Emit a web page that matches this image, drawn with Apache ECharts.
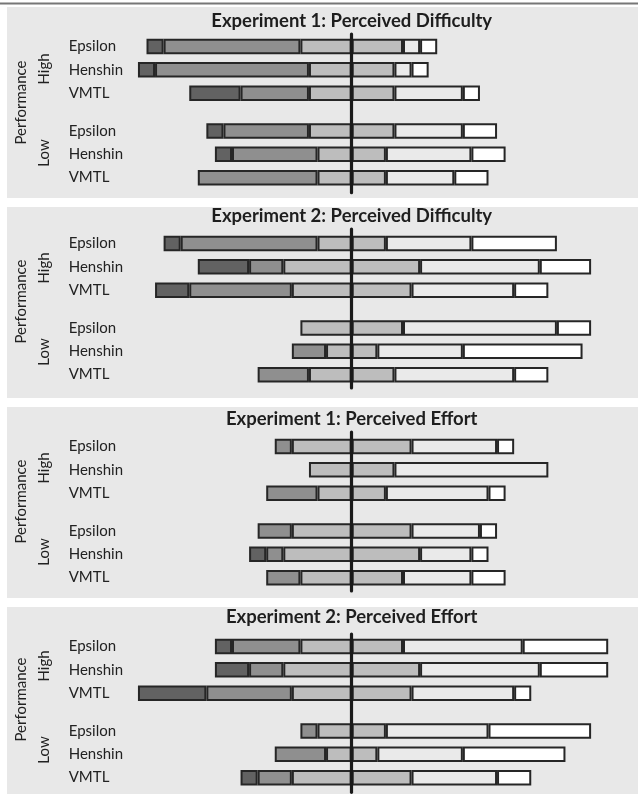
<!DOCTYPE html>
<html>
<head>
<meta charset="utf-8">
<script src="https://cdn.jsdelivr.net/npm/echarts@6/dist/echarts.min.js"></script>
<style>html,body{margin:0;padding:0;background:#fff}#c{width:638px;height:794px}</style>
</head>
<body>
<div id="c"></div>
<script>
// Row labels and panel titles
const rowNames = ['Epsilon', 'Henshin', 'VMTL'];
const panelTitles = [
  'Experiment 1: Perceived Difficulty',
  'Experiment 2: Perceived Difficulty',
  'Experiment 1: Perceived Effort',
  'Experiment 2: Perceived Effort'
];
// Counts per row: [very low, low, neutral, high, very high]
const exp1DiffHigh = [[1, 8, 6, 1, 1], [1, 9, 5, 1, 1], [3, 4, 5, 4, 1]];
const exp1DiffLow  = [[1, 5, 5, 4, 2], [1, 5, 4, 5, 2], [0, 7, 4, 4, 2]];
const exp2DiffHigh = [[1, 8, 4, 5, 5], [3, 2, 8, 7, 3], [2, 6, 7, 6, 2]];
const exp2DiffLow  = [[0, 0, 6, 9, 2], [0, 2, 3, 5, 7], [0, 3, 5, 7, 2]];
const exp1EffHigh  = [[0, 1, 7, 5, 1], [0, 0, 5, 9, 0], [0, 3, 4, 6, 1]];
const exp1EffLow   = [[0, 2, 7, 4, 1], [1, 1, 8, 3, 1], [0, 2, 6, 4, 2]];
const exp2EffHigh  = [[1, 4, 6, 7, 5], [2, 2, 8, 7, 4], [4, 5, 7, 6, 1]];
const exp2EffLow   = [[0, 1, 4, 6, 6], [0, 3, 3, 5, 6], [1, 2, 7, 5, 2]];

const panels = [
  [exp1DiffHigh, exp1DiffLow],
  [exp2DiffHigh, exp2DiffLow],
  [exp1EffHigh, exp1EffLow],
  [exp2EffHigh, exp2EffLow]
];

// layout
const panelTop = [7, 207, 407, 607];
const barOffset = [0, 197, 400, 600];
const labelOffset = [0, 199, 399, 597];
const titleTop = [11.5, 207, 409.5, 608];
const lineSpan = [[34, 192.7], [229, 388], [432, 591], [634, 792.3]];
const gridLeft = 9.7, gridWidth = 615.6, xMin = -20, xMax = 16;
const colors = { dark: '#626262', med: '#8f8f8f', neu: '#bdbdbd', light: '#eaeaea', white: '#ffffff' };
const FONT = 'Lato';

const nz = v => (v === 0 ? null : v);

const grids = [], xAxes = [], yAxes = [], series = [], titles = [], graphics = [];

graphics.push({ type: 'rect', shape: { x: 0, y: 2.5, width: 638, height: 2 }, style: { fill: '#777' }, z: -10 });

panels.forEach((groups, p) => {
  graphics.push({ type: 'rect', shape: { x: 7, y: panelTop[p], width: 631, height: 191 }, style: { fill: '#e8e8e8' }, z: -10 });
  titles.push({
    text: panelTitles[p], left: 351.7, top: titleTop[p], textAlign: 'center', padding: 0,
    textStyle: { fontFamily: FONT, fontWeight: 'bold', fontSize: 18.5, color: '#1e1e1e' }
  });
  const lo = labelOffset[p];
  graphics.push({ type: 'text', x: 21, y: 102.5 + lo, rotation: Math.PI / 2,
    style: { text: 'Performance', font: '15px ' + FONT, fill: '#222', align: 'center', verticalAlign: 'middle' }, z: 10 });
  graphics.push({ type: 'text', x: 44, y: 69 + lo, rotation: Math.PI / 2,
    style: { text: 'High', font: '15px ' + FONT, fill: '#222', align: 'center', verticalAlign: 'middle' }, z: 10 });
  graphics.push({ type: 'text', x: 44, y: 153 + lo, rotation: Math.PI / 2,
    style: { text: 'Low', font: '15px ' + FONT, fill: '#222', align: 'center', verticalAlign: 'middle' }, z: 10 });

  groups.forEach((rows, g) => {
    const gi = p * 2 + g;
    const top = (g === 0 ? 34.8 : 119.3) + barOffset[p];
    grids.push({ left: gridLeft, width: gridWidth, top: top, height: 70 });
    xAxes.push({ type: 'value', gridIndex: gi, min: xMin, max: xMax, show: false });
    yAxes.push({
      type: 'category', gridIndex: gi, data: rowNames, inverse: true,
      axisLine: { show: false }, axisTick: { show: false }, splitLine: { show: false },
      axisLabel: { inside: true, margin: 59, fontFamily: FONT, fontSize: 15, color: '#222' }
    });
    const parts = [
      ['neu', rows.map(r => nz(-r[2] / 2))],
      ['med', rows.map(r => nz(-r[1]))],
      ['dark', rows.map(r => nz(-r[0]))],
      ['neu', rows.map(r => nz(r[2] / 2))],
      ['light', rows.map(r => nz(r[3]))],
      ['white', rows.map(r => nz(r[4]))]
    ];
    parts.forEach(([k, data]) => {
      series.push({
        type: 'bar', xAxisIndex: gi, yAxisIndex: gi, stack: 's' + gi, data: data,
        barWidth: 15.5,
        itemStyle: { color: colors[k], borderColor: '#262626', borderWidth: 2 },
        silent: true
      });
    });
  });
});

// centre lines
lineSpan.forEach((s, p) => {
  const gi = 8 + p;
  grids.push({ left: gridLeft, width: gridWidth, top: s[0], height: s[1] - s[0] });
  xAxes.push({ type: 'value', gridIndex: gi, min: xMin, max: xMax, show: false });
  yAxes.push({ type: 'value', gridIndex: gi, min: 0, max: 1, show: false });
  series.push({
    type: 'line', xAxisIndex: gi, yAxisIndex: gi, data: [], z: 5,
    markLine: {
      silent: true, symbol: 'none', label: { show: false },
      lineStyle: { color: '#1a1a1a', width: 3.2, type: 'solid', cap: 'round' },
      data: [{ xAxis: 0 }]
    }
  });
});

const chart = echarts.init(document.getElementById('c'), null, { renderer: 'canvas' });
chart.setOption({
  animation: false,
  backgroundColor: '#ffffff',
  title: titles,
  grid: grids,
  xAxis: xAxes,
  yAxis: yAxes,
  series: series,
  graphic: graphics
});
</script>
</body>
</html>
